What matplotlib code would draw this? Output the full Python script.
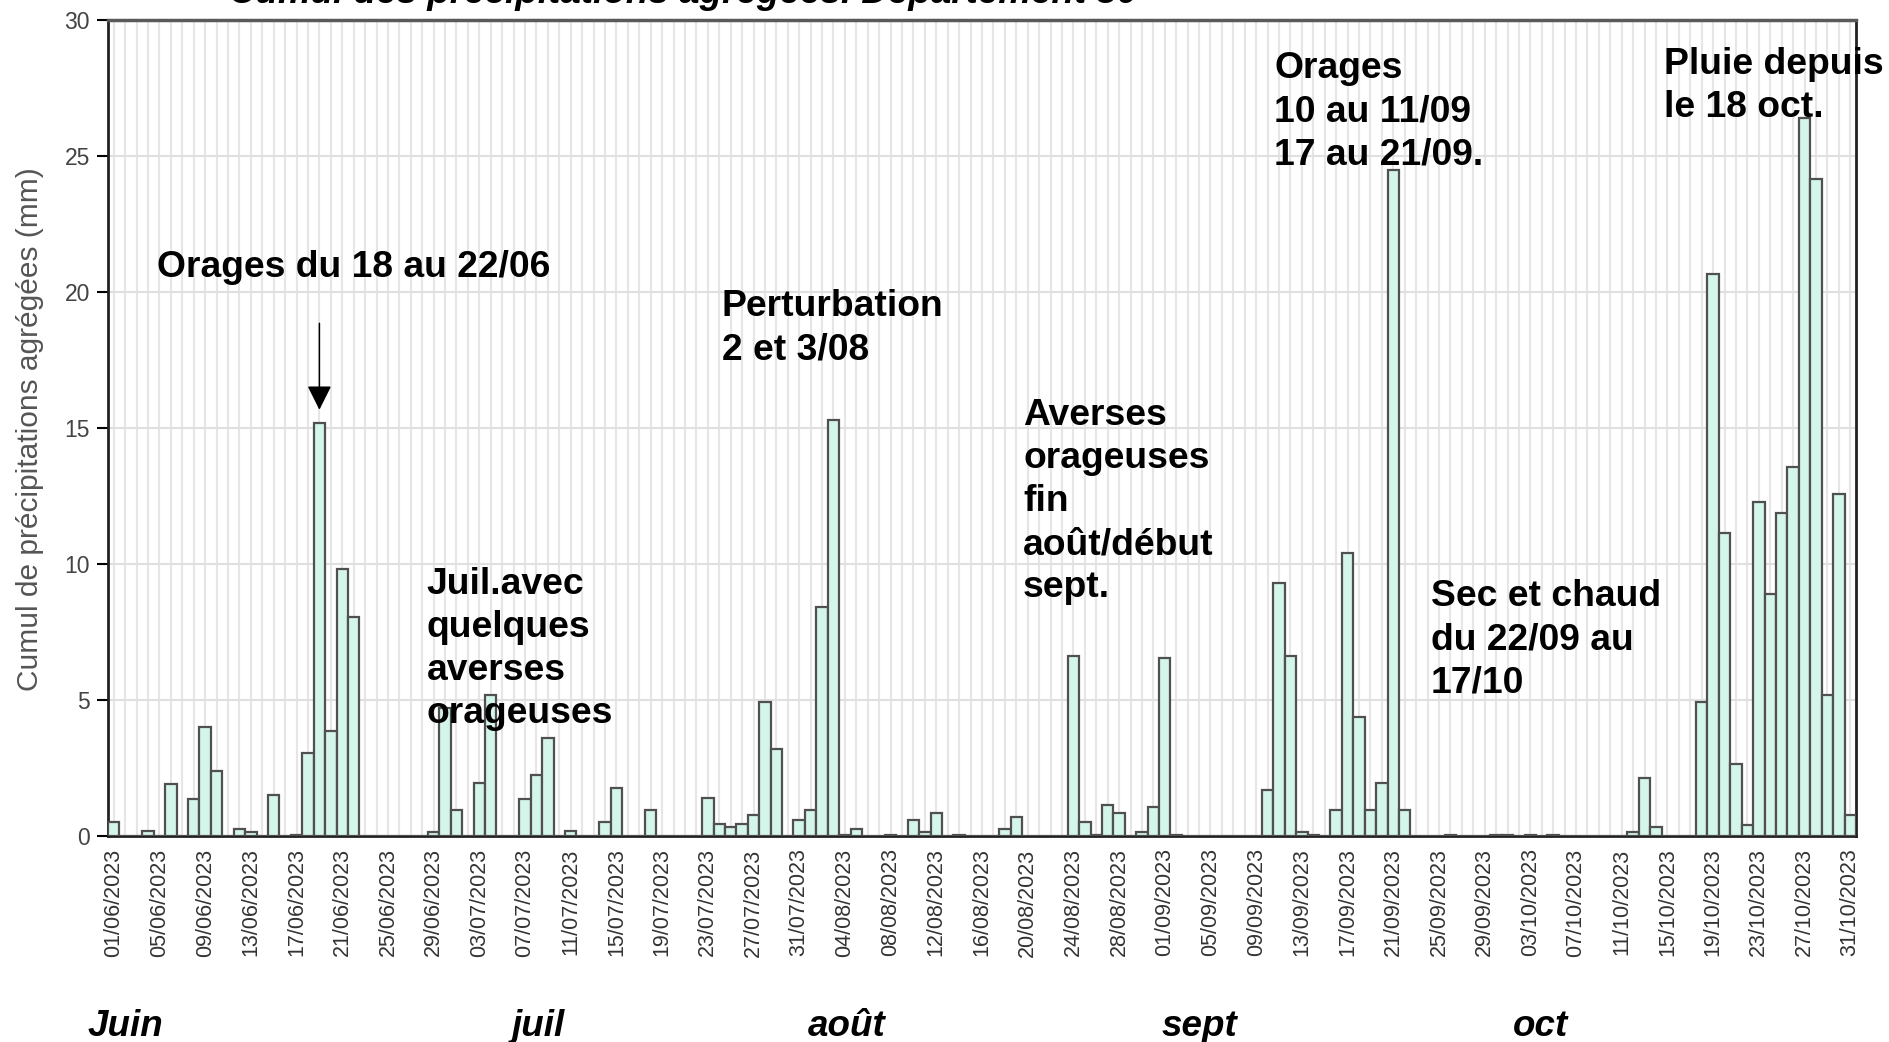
import matplotlib
matplotlib.use("Agg")
import matplotlib.pyplot as plt
import numpy as np
import pandas as pd

plt.rcParams['font.family'] = ['Liberation Sans', 'DejaVu Sans']

# daily aggregated precipitation (mm), 01/06/2023 -> 31/10/2023
june_mm = [0.5, 0, 0, 0.2, 0, 1.9, 0, 1.35, 4.0, 2.4,
           0, 0.25, 0.15, 0, 1.5, 0, 0.05, 3.05, 15.2, 3.85,
           9.8, 8.05, 0, 0, 0, 0, 0, 0, 0.15, 4.7]
july_mm = [0.97, 0, 1.95, 5.2, 0, 0, 1.35, 2.25, 3.6, 0,
           0.17, 0, 0, 0.52, 1.78, 0, 0, 0.97, 0, 0,
           0, 0, 1.41, 0.43, 0.33, 0.43, 0.79, 4.93, 3.21, 0, 0.6]
aug_mm = [0.97, 8.43, 15.28, 0.05, 0.25, 0, 0, 0.05, 0, 0.6,
          0.15, 0.86, 0, 0.05, 0, 0, 0, 0.25, 0.7, 0,
          0, 0, 0, 6.61, 0.52, 0.05, 1.13, 0.86, 0, 0.15, 1.07]
sept_mm = [6.53, 0.05, 0, 0, 0, 0, 0, 0, 0, 1.68,
           9.31, 6.61, 0.15, 0.05, 0, 0.97, 10.39, 4.36, 0.97, 1.95,
           24.5, 0.97, 0, 0, 0, 0.05, 0, 0, 0, 0.05]
oct_mm = [0.05, 0, 0.05, 0, 0.05, 0, 0, 0, 0, 0,
          0, 0.15, 2.13, 0.33, 0, 0, 0, 4.93, 20.66, 11.13,
          2.66, 0.42, 12.29, 8.88, 11.86, 13.56, 26.39, 24.14, 5.18, 12.56, 0.76]

rain = np.array(june_mm + july_mm + aug_mm + sept_mm + oct_mm)
dates = pd.date_range("2023-06-01", periods=len(rain), freq="D")
date_labels = dates.strftime("%d/%m/%Y")

months = ["Juin", "juil", "août", "sept", "oct"]
month_x = [0.0663, 0.2851, 0.4483, 0.6352, 0.8157]

# annotations: (text, x in days, top y in mm)
notes = [
    ("Orages du 18 au 22/06", 3.8, 21.55),
    ("Juil.avec\nquelques\naverses\norageuses", 27.4, 9.9),
    ("Perturbation\n2 et 3/08", 53.2, 20.1),
    ("Averses\norageuses\nfin\naoût/début\nsept.", 79.6, 16.1),
    ("Orages\n10 au 11/09\n17 au 21/09.", 101.6, 28.85),
    ("Sec et chaud\ndu 22/09 au\n17/10", 115.3, 9.45),
    ("Pluie depuis\nle 18 oct.", 135.7, 29.0),
]

fig = plt.figure(figsize=(18.89, 10.42), dpi=100)
ax = fig.add_axes([0.0572, 0.1977, 0.9253, 0.7831])

x = np.arange(len(rain))
ax.bar(x, rain, width=1.0, color="#d4f5e9", edgecolor="#505050",
       linewidth=1.6, zorder=3)

ax.set_xlim(-0.5, len(rain) - 0.5)
ax.set_ylim(0, 30)

# grid
ax.set_yticks(np.arange(0, 31, 5))
ax.set_xticks(x[::4])
ax.set_xticklabels(date_labels[::4], rotation=90, fontsize=15.5, color="#333333")
ax.set_xticks(x, minor=True)
ax.yaxis.grid(True, color="#e0e0e0", lw=1.5, zorder=0)
ax.xaxis.grid(True, which="both", color="#e6e6e6", lw=1.5, zorder=0)
ax.set_axisbelow(True)

ax.tick_params(axis="x", which="both", length=0, pad=9)
ax.tick_params(axis="y", direction="out", length=8, width=1.5,
               labelsize=16.5, labelcolor="#444444", pad=5)

for side in ["left", "bottom", "right"]:
    ax.spines[side].set_linewidth(2)
    ax.spines[side].set_color("#222222")
ax.spines["top"].set_linewidth(2.5)
ax.spines["top"].set_color("#5a5a5a")

fig.text(0.0159, 0.588, "Cumul de précipitations agrégées (mm)", rotation=90,
         ha="center", va="center", fontsize=21.5, color="#555555")

# title, cut by the top of the image as in the source
fig.text(0.121, 0.997, "Cumul des précipitations agrégées. Département 30",
         ha="left", va="baseline", fontsize=26.5, fontweight="bold",
         fontstyle="italic")

for txt, tx, ty in notes:
    ax.text(tx, ty, txt, ha="left", va="top", fontsize=26.8,
            fontweight="bold", linespacing=1.3, zorder=5, clip_on=False)

ax.annotate("", xy=(18, 15.67), xytext=(18, 18.85),
            arrowprops=dict(arrowstyle="-|>,head_length=0.6,head_width=0.3",
                            color="black", lw=1.1, mutation_scale=25,
                            shrinkA=0, shrinkB=0), zorder=6)

for m, mx in zip(months, month_x):
    fig.text(mx, 0.006, m, ha="center", va="baseline", fontsize=26.5,
             fontweight="bold", fontstyle="italic")

fig.savefig("out.png", dpi=100)
